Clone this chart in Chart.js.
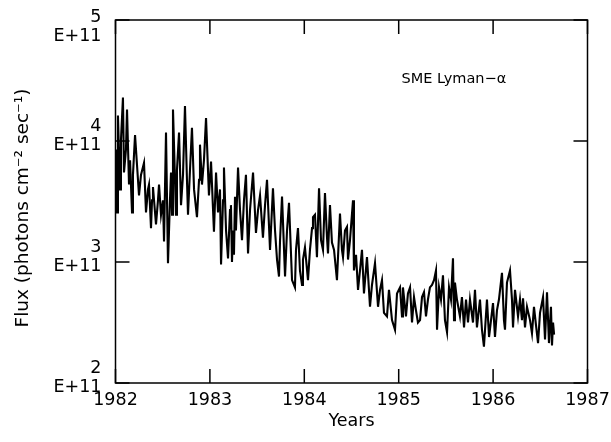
<!DOCTYPE html>
<html>
<head>
<meta charset="utf-8">
<script src="https://cdn.jsdelivr.net/npm/chart.js@4.4.0/dist/chart.umd.min.js"></script>
<style>
  html, body { margin: 0; padding: 0; background: #ffffff; }
  #wrap { width: 611px; height: 442px; position: relative; }
</style>
</head>
<body>
<div id="wrap"><canvas id="c" width="611" height="442"></canvas></div>
<script>
// ---- data (flux in units of 1E+11 photons cm^-2 sec^-1) ----
const years = [
  1982.005,1982.016,1982.026,1982.048,1982.058,1982.079,1982.090,1982.111,1982.122,1982.143,
  1982.154,1982.175,1982.185,1982.207,1982.228,1982.249,1982.270,1982.302,1982.323,1982.344,
  1982.355,1982.376,1982.387,1982.397,1982.429,1982.450,1982.461,1982.482,1982.503,1982.514,
  1982.535,1982.556,1982.577,1982.588,1982.599,1982.609,1982.641,1982.651,1982.673,1982.694,
  1982.715,1982.736,1982.757,1982.768,1982.789,1982.810,1982.832,1982.863,1982.885,1982.895,
  1982.916,1982.937,1982.959,1982.990,1983.012,1983.043,1983.065,1983.086,1983.107,1983.118,
  1983.139,1983.149,1983.171,1983.192,1983.213,1983.223,1983.234,1983.245,1983.255,1983.266,
  1983.276,1983.298,1983.319,1983.340,1983.361,1983.382,1983.404,1983.425,1983.457,1983.488,
  1983.510,1983.531,1983.562,1983.584,1983.605,1983.637,1983.668,1983.690,1983.711,1983.732,
  1983.743,1983.764,1983.796,1983.817,1983.838,1983.870,1983.901,1983.912,1983.933,1983.954,
  1983.976,1983.986,1984.007,1984.039,1984.060,1984.082,1984.092,1984.113,1984.134,1984.156,
  1984.177,1984.198,1984.219,1984.240,1984.251,1984.272,1984.293,1984.315,1984.346,1984.378,
  1984.399,1984.410,1984.431,1984.452,1984.463,1984.484,1984.516,1984.526,1984.548,1984.569,
  1984.590,1984.611,1984.632,1984.664,1984.696,1984.717,1984.749,1984.781,1984.802,1984.823,
  1984.844,1984.876,1984.897,1984.929,1984.961,1984.982,1985.014,1985.035,1985.045,1985.077,
  1985.098,1985.120,1985.141,1985.162,1985.183,1985.204,1985.226,1985.247,1985.268,1985.289,
  1985.310,1985.331,1985.353,1985.374,1985.395,1985.406,1985.427,1985.448,1985.469,1985.490,
  1985.512,1985.533,1985.554,1985.575,1985.586,1985.596,1985.617,1985.649,1985.670,1985.692,
  1985.713,1985.734,1985.755,1985.787,1985.808,1985.829,1985.861,1985.882,1985.903,1985.935,
  1985.957,1985.978,1985.999,1986.020,1986.041,1986.062,1986.094,1986.115,1986.126,1986.147,
  1986.179,1986.200,1986.211,1986.232,1986.264,1986.285,1986.306,1986.317,1986.338,1986.359,
  1986.391,1986.412,1986.433,1986.454,1986.476,1986.497,1986.529,1986.550,1986.571,1986.592,
  1986.613,1986.624,1986.635,1986.646
];
const flux = [
  3.93,3.41,4.21,3.60,4.01,4.36,3.74,3.93,4.26,3.64,
  3.84,3.41,3.72,4.05,3.80,3.55,3.72,3.82,3.41,3.60,
  3.64,3.28,3.51,3.62,3.31,3.51,3.64,3.39,3.51,3.17,
  4.07,2.99,3.51,3.74,3.39,4.26,3.39,3.76,4.07,3.47,
  3.72,4.29,3.68,3.39,3.76,4.11,3.60,3.37,3.68,3.97,
  3.64,3.84,4.19,3.55,3.83,3.25,3.74,3.41,3.60,2.98,
  3.51,3.78,3.26,3.03,3.43,3.47,3.00,3.26,3.06,3.54,
  3.26,3.78,3.43,3.18,3.51,3.72,3.07,3.43,3.74,3.24,
  3.43,3.55,3.20,3.47,3.68,3.10,3.61,3.26,3.02,2.88,
  3.18,3.54,2.88,3.26,3.49,2.85,2.79,3.10,3.28,2.93,
  2.81,3.02,3.12,2.85,3.10,3.28,3.37,3.39,3.04,3.61,
  3.18,3.10,3.57,3.21,3.07,3.47,3.16,3.10,2.85,3.40,
  3.10,3.04,3.26,3.29,3.02,3.18,3.51,2.93,3.06,2.77,
  2.93,3.10,2.74,3.04,2.63,2.81,2.99,2.63,2.77,2.85,
  2.58,2.55,2.77,2.52,2.44,2.74,2.79,2.55,2.79,2.55,
  2.74,2.79,2.50,2.71,2.60,2.50,2.52,2.71,2.75,2.55,
  2.69,2.79,2.81,2.85,2.93,2.44,2.79,2.69,2.89,2.52,
  2.42,2.79,2.69,3.03,2.52,2.83,2.69,2.55,2.71,2.46,
  2.69,2.50,2.69,2.50,2.77,2.46,2.69,2.44,2.30,2.69,
  2.38,2.52,2.66,2.38,2.60,2.69,2.91,2.52,2.44,2.83,
  2.93,2.69,2.46,2.77,2.55,2.69,2.52,2.70,2.46,2.63,
  2.52,2.41,2.63,2.48,2.33,2.58,2.71,2.36,2.75,2.33,
  2.63,2.31,2.50,2.40
];
const xTicks = [1982, 1983, 1984, 1985, 1986, 1987];
const yTicks = [2, 3, 4, 5];
const yExponent = 'E+11';
const xTitle = 'Years';
const yTitle = 'Flux (photons cm\u207B\u00B2 sec\u207B\u00B9)';
const annotation = 'SME Lyman\u2212\u03B1';

const FONT = '"DejaVu Sans", "Liberation Sans", sans-serif';

const framePlugin = {
  id: 'frame',
  afterDraw(chart) {
    const ctx = chart.ctx;
    const a = chart.chartArea;
    const xs = chart.scales.x, ys = chart.scales.y;
    ctx.save();
    ctx.strokeStyle = '#000';
    ctx.fillStyle = '#000';
    ctx.lineWidth = 1.5;
    ctx.strokeRect(a.left, a.top, a.right - a.left, a.bottom - a.top);
    const tl = 14;
    ctx.beginPath();
    xTicks.forEach(v => {
      const px = xs.getPixelForValue(v);
      ctx.moveTo(px, a.bottom); ctx.lineTo(px, a.bottom - tl);
      ctx.moveTo(px, a.top); ctx.lineTo(px, a.top + tl);
    });
    yTicks.forEach(v => {
      const py = ys.getPixelForValue(v);
      ctx.moveTo(a.left, py); ctx.lineTo(a.left + tl, py);
      ctx.moveTo(a.right, py); ctx.lineTo(a.right - tl, py);
    });
    ctx.stroke();

    // x tick labels
    ctx.font = '17.5px ' + FONT;
    ctx.textAlign = 'center';
    ctx.textBaseline = 'middle';
    xTicks.forEach(v => {
      ctx.fillText(String(v), xs.getPixelForValue(v), a.bottom + 17);
    });
    // y tick labels (two lines: mantissa over exponent)
    ctx.textAlign = 'right';
    yTicks.forEach(v => {
      const py = ys.getPixelForValue(v);
      const dy = Math.max(py - 15, a.top - 3);
      ctx.fillText(String(v), a.left - 14, dy);
      ctx.fillText(yExponent, a.left - 14, dy + 19);
    });
    // axis titles
    ctx.textAlign = 'center';
    ctx.fillText(xTitle, (a.left + a.right) / 2, a.bottom + 38);
    ctx.save();
    ctx.font = '18.5px ' + FONT;
    ctx.translate(23, 208);
    ctx.rotate(-Math.PI / 2);
    ctx.fillText(yTitle, 0, 0);
    ctx.restore();
    // annotation
    ctx.font = '14.5px ' + FONT;
    ctx.textAlign = 'left';
    ctx.fillText(annotation, a.left + 286, a.top + 59);
    ctx.restore();
  }
};

new Chart(document.getElementById('c'), {
  type: 'line',
  data: {
    datasets: [{
      data: years.map((x, i) => ({ x: x, y: flux[i] })),
      borderColor: '#000',
      borderWidth: 2.1,
      borderJoinStyle: 'miter',
      pointRadius: 0,
      tension: 0,
      fill: false
    }]
  },
  options: {
    responsive: false,
    animation: false,
    events: [],
    layout: { padding: { left: 115.5, right: 23.5, top: 20, bottom: 59 } },
    plugins: { legend: { display: false }, tooltip: { enabled: false } },
    scales: {
      x: { type: 'linear', min: 1982, max: 1987, display: false },
      y: { type: 'linear', min: 2, max: 5, display: false }
    }
  },
  plugins: [framePlugin]
});
</script>
</body>
</html>
